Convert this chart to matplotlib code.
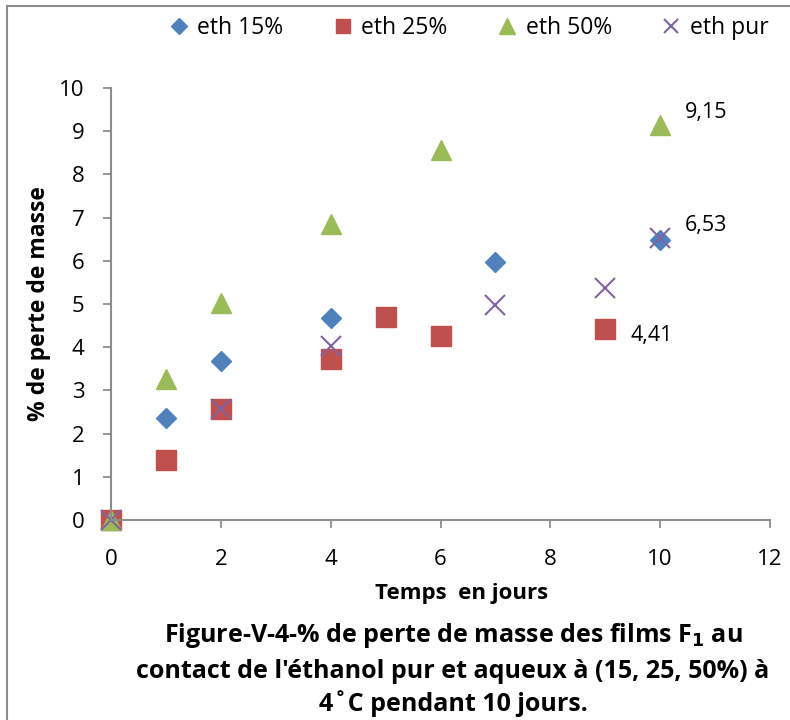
import matplotlib.pyplot as plt
from matplotlib.patches import Rectangle

# data
x15 = [0, 1, 2, 4, 7, 10]
y15 = [0, 2.35, 3.68, 4.68, 5.98, 6.48]
x25 = [0, 1, 2, 4, 5, 6, 9]
y25 = [0, 1.39, 2.58, 3.72, 4.69, 4.26, 4.41]
x50 = [0, 1, 2, 4, 6, 10]
y50 = [0, 3.27, 5.03, 6.86, 8.57, 9.15]
xpur = [0, 2, 4, 7, 9, 10]
ypur = [0, 2.56, 4.03, 4.97, 5.37, 6.53]

labels = ['eth 15%', 'eth 25%', 'eth 50%', 'eth pur']
notes = [('9,15', 10, 9.15, (25, 12)), ('6,53', 10, 6.53, (25, 12)), ('4,41', 9, 4.41, (25, -6))]

plt.rcParams['font.family'] = ['Open Sans', 'DejaVu Sans']

fig = plt.figure(figsize=(7.9, 7.2), dpi=100)
fig.patches.append(Rectangle((7/790, -0.1), 1.2, 1 - 6/720 + 0.1, transform=fig.transFigure,
                             fc='none', ec='#8c8c8c', lw=1.5))
ax = fig.add_axes([111/790, 1 - 520/720, 659/790, 432/720])

ax.plot(x15, y15, 'D', color='#4F81BD', ms=10.5, mec='#4F81BD', label=labels[0], clip_on=False)
ax.plot(x25, y25, 's', color='#C0504D', ms=14, mec='#C0504D', label=labels[1], clip_on=False)
ax.plot(x50, y50, '^', color='#9BBB59', ms=15, mec='#9BBB59', label=labels[2], clip_on=False)
ax.plot(xpur, ypur, 'x', color='#8064A2', ms=14, mew=1.5, label=labels[3], clip_on=False)

for txt, xv, yv, off in notes:
    ax.annotate(txt, (xv, yv), xytext=off, textcoords='offset pixels',
                fontsize=15.5, va='center', ha='left')

ax.set_xlim(0, 12)
ax.set_ylim(0, 10)
ax.set_xticks(range(0, 13, 2))
ax.set_yticks(range(0, 11))
ax.tick_params(labelsize=16, color='#8c8c8c', length=6, width=1.3, direction='out')
ax.tick_params(axis='x', pad=15)
ax.tick_params(axis='y', pad=13)
for s in ['top', 'right']:
    ax.spines[s].set_visible(False)
for s in ['left', 'bottom']:
    ax.spines[s].set_color('#8c8c8c')
    ax.spines[s].set_linewidth(1.5)

ax.set_ylabel('% de perte de masse', fontsize=16.5, fontweight='bold', labelpad=6)
fig.text(462/790, 1 - 593/720, 'Temps  en jours', fontsize=16, fontweight='bold',
         ha='center', va='center')
fig.text(453/790, 1 - 636/720, 'Figure-V-4-% de perte de masse des films F$_\\mathbf{1}$ au',
         fontsize=18, fontweight='bold', ha='center', va='center')
fig.text(453/790, 1 - 671/720, "contact de l'éthanol pur et aqueux à (15, 25, 50%) à",
         fontsize=18, fontweight='bold', ha='center', va='center')
fig.text(453/790, 1 - 704/720, '4˚C pendant 10 jours.',
         fontsize=18, fontweight='bold', ha='center', va='center')

leg = ax.legend(loc='center', bbox_to_anchor=(468/790, 1 - 28/720), bbox_transform=fig.transFigure,
                ncol=4, frameon=False, fontsize=16.5, handletextpad=0.3, columnspacing=2.1,
                handlelength=1.0, markerscale=0.75)

fig.savefig('out.png', dpi=100)
